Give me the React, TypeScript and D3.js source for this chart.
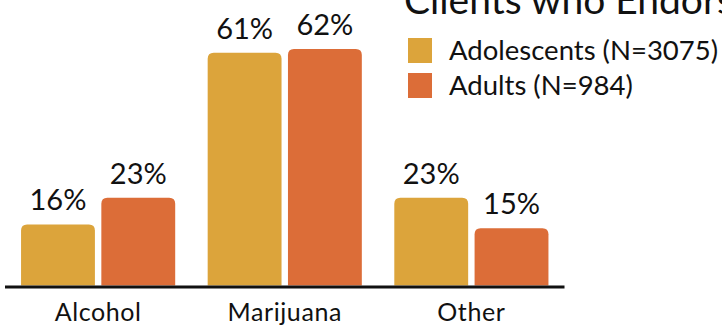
import React from "react";
import * as d3 from "d3";

const categories = ["Alcohol", "Marijuana", "Other"];
const seriesNames = ["Adolescents (N=3075)", "Adults (N=984)"];
const adolescents = [16, 61, 23];
const adults = [23, 62, 15];
const titleText = "Clients who Endorsed Substance Use";

const W = 722;
const H = 328;
const colors = ["#DCA43B", "#DC6D38"];
const FONT = "Lato, 'Open Sans', sans-serif";

function topRounded(x: number, y: number, w: number, h: number, r: number) {
  const rr = Math.min(r, w / 2, h);
  return `M${x},${y + h}V${y + rr}Q${x},${y} ${x + rr},${y}H${x + w - rr}Q${x + w},${y} ${x + w},${y + rr}V${y + h}Z`;
}

export default function App() {
  const baseline = 285.5;
  const x0 = d3
    .scaleBand<string>()
    .domain(categories)
    .range([5, 564.5])
    .paddingInner(0.174)
    .paddingOuter(0.086);
  const x1 = d3
    .scaleBand<number>()
    .domain([0, 1])
    .range([0, x0.bandwidth()])
    .paddingInner(0.08);
  const y = d3.scaleLinear().domain([0, 62]).range([baseline, 49]);
  const series = [adolescents, adults];

  return (
    <svg
      width={W}
      height={H}
      style={{ position: "absolute", left: 0, top: 0, background: "#fff" }}
      fontFamily={FONT}
    >
      <text x={404} y={14} fontSize={39} fill="#111">
        {titleText}
      </text>
      {seriesNames.map((s, i) => (
        <g key={s} transform={`translate(408, ${38 + i * 35})`}>
          <rect width={24} height={25} fill={colors[i]} />
          <text x={41} y={21.5} fontSize={27.5} fill="#111">
            {s}
          </text>
        </g>
      ))}
      {categories.map((c, ci) => (
        <g key={c}>
          {series.map((vals, si) => {
            const v = vals[ci];
            const bx = (x0(c) as number) + (x1(si) as number);
            const bw = x1.bandwidth();
            const by = y(v);
            return (
              <g key={si}>
                <path d={topRounded(bx, by, bw, baseline - by, 6)} fill={colors[si]} />
                <text
                  x={bx + bw / 2}
                  y={by - 14}
                  textAnchor="middle"
                  fontSize={29}
                  fill="#111"
                >
                  {v}%
                </text>
              </g>
            );
          })}
          <text
            x={(x0(c) as number) + x0.bandwidth() / 2}
            y={321}
            textAnchor="middle"
            fontSize={25}
            letterSpacing={0.6}
            fill="#111"
          >
            {c}
          </text>
        </g>
      ))}
      <line x1={5} x2={564.5} y1={287} y2={287} stroke="#111" strokeWidth={3} />
    </svg>
  );
}
